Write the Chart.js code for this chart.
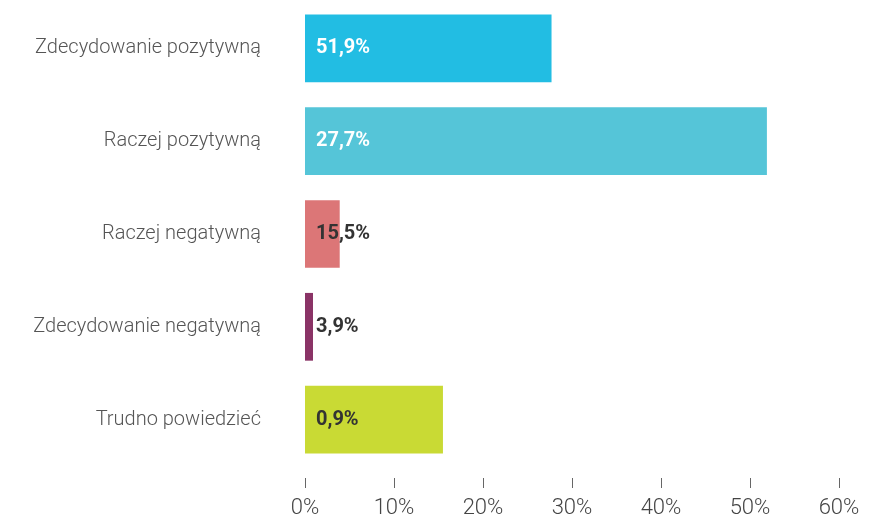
<!DOCTYPE html>
<html>
<head>
<meta charset="utf-8">
<script src="https://cdn.jsdelivr.net/npm/chart.js@4.4.1/dist/chart.umd.min.js"></script>
<style>
  html, body { margin: 0; padding: 0; background: #fff; }
  #wrap { width: 874px; height: 517px; position: relative; }
</style>
</head>
<body>
<div id="wrap"><canvas id="chart"></canvas></div>
<script>
// ================= DATA =================
const categories = [
  "Zdecydowanie pozytywną",
  "Raczej pozytywną",
  "Raczej negatywną",
  "Zdecydowanie negatywną",
  "Trudno powiedzieć"
];
// bar lengths as drawn on the axis
const barValues = [27.7, 51.9, 3.9, 0.9, 15.5];
// value labels as printed on the bars
const valueLabels = ["51,9%", "27,7%", "15,5%", "3,9%", "0,9%"];
const barColors = ["#22bde3", "#55c5d8", "#dc7677", "#8a3366", "#c9da34"];
const labelColors = ["#ffffff", "#ffffff", "#333333", "#333333", "#333333"];
const xTicks = [0, 10, 20, 30, 40, 50, 60];

// ================= PLUGINS =================
// short tick marks under the chart area, detached from the bars
const tickMarks = {
  id: "tickMarks",
  afterDraw(chart) {
    const ctx = chart.ctx;
    const x = chart.scales.x;
    const top = chart.chartArea.bottom + 12;
    ctx.save();
    ctx.strokeStyle = "#666";
    ctx.lineWidth = 1;
    xTicks.forEach(v => {
      const px = Math.round(x.getPixelForValue(v)) + 0.5;
      ctx.beginPath();
      ctx.moveTo(px, top);
      ctx.lineTo(px, top + 10);
      ctx.stroke();
    });
    ctx.restore();
  }
};

const valueText = {
  id: "valueText",
  afterDatasetsDraw(chart) {
    const ctx = chart.ctx;
    const meta = chart.getDatasetMeta(0);
    ctx.save();
    ctx.font = "bold 20px Roboto";
    ctx.textAlign = "left";
    ctx.textBaseline = "middle";
    meta.data.forEach((bar, i) => {
      ctx.fillStyle = labelColors[i];
      ctx.fillText(valueLabels[i], bar.base + 11, bar.y);
    });
    ctx.restore();
  }
};

// ================= CHART =================
new Chart(document.getElementById("chart"), {
  type: "bar",
  data: {
    labels: categories,
    datasets: [{
      data: barValues,
      backgroundColor: barColors,
      borderWidth: 0,
      barPercentage: 1,
      categoryPercentage: 0.73
    }]
  },
  options: {
    indexAxis: "y",
    responsive: true,
    maintainAspectRatio: false,
    animation: false,
    layout: { padding: { top: 2, right: 35, left: 0, bottom: 0 } },
    plugins: {
      legend: { display: false },
      tooltip: { enabled: false }
    },
    scales: {
      x: {
        min: 0,
        max: 60,
        afterFit(scale) {
          scale.height = 51;
          scale.paddingLeft = 0;
          scale.paddingRight = 0;
        },
        grid: { display: false },
        border: { display: false },
        ticks: {
          stepSize: 10,
          padding: 21,
          color: "#444",
          font: { family: "Roboto", size: 22, weight: "300" },
          callback: v => v + "%"
        }
      },
      y: {
        afterFit(scale) {
          scale.width = 305;
          scale.paddingTop = 0;
          scale.paddingBottom = 0;
        },
        grid: { display: false },
        border: { display: false },
        ticks: {
          padding: 36,
          color: "#555",
          font: { family: "Roboto", size: 20, weight: "300" }
        }
      }
    }
  },
  plugins: [tickMarks, valueText]
});
</script>
</body>
</html>
